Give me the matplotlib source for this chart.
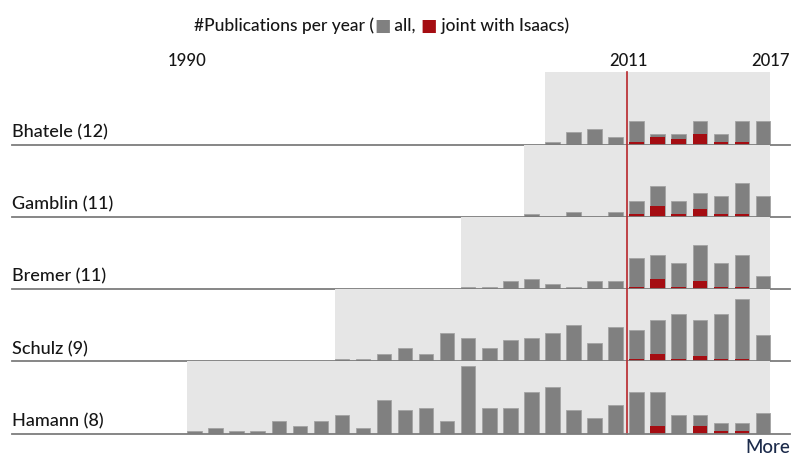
import matplotlib
matplotlib.use("Agg")
import matplotlib.pyplot as plt
from matplotlib.transforms import blended_transform_factory

# Publications per year for each co-author (all papers), first year to 2017
bhatele_all = [1, 5, 6, 3, 9, 4, 4, 9, 4, 9, 9]
gamblin_all = [1, 0, 2, 0, 2, 6, 12, 6, 9, 8, 13, 8]
bremer_all = [1, 1, 3, 4, 2, 1, 3, 3, 12, 13, 10, 17, 10, 13, 5]
schulz_all = [1, 1, 3, 5, 3, 11, 9, 5, 8, 9, 11, 14, 7, 13, 12, 16, 18, 16, 18, 24, 10]
hamann_all = [1, 2, 1, 1, 5, 3, 5, 7, 2, 13, 9, 10, 5, 26, 10, 10, 16, 18, 9, 6, 11,
              16, 16, 7, 7, 4, 4, 8]

# Joint papers with Isaacs, 2011-2017
joint_years = [2011, 2012, 2013, 2014, 2015, 2016, 2017]
bhatele_joint = [1, 3, 2, 4, 1, 1, 0]
gamblin_joint = [1, 4, 1, 3, 1, 1, 0]
bremer_joint = [1, 4, 1, 3, 1, 1, 0]
schulz_joint = [1, 3, 1, 2, 1, 1, 0]
hamann_joint = [0, 3, 0, 3, 1, 1, 0]

names = ["Bhatele", "Gamblin", "Bremer", "Schulz", "Hamann"]
first_years = [2007, 2006, 2003, 1997, 1990]
all_series = [bhatele_all, gamblin_all, bremer_all, schulz_all, hamann_all]
joint_series = [bhatele_joint, gamblin_joint, bremer_joint, schulz_joint, hamann_joint]
last_year = 2017
mark_year = 2011
year_labels = [1990, 2011, 2017]

FONT = ["Lato", "DejaVu Sans"]
WEIGHT = 500
GRAY = "#808080"
RED = "#a50d12"
BG = "#e6e6e6"
TEXT = "#161616"

W, H = 792, 457
fig = plt.figure(figsize=(W / 100, H / 100), dpi=100)

slot_px = 21.05          # horizontal pixels per year
origin_px = 187.3        # left edge of the 1990 slot
bar_w = 0.69
x0 = 1990 - origin_px / slot_px
x1 = x0 + W / slot_px

row_h_px = 72.4
row_step_px = 72.25
first_base_px = 144.7
unit_px = 2.62           # pixels per publication
ymax = row_h_px / unit_px

axes = []
for i, (name, start, vals, joint) in enumerate(zip(names, first_years, all_series, joint_series)):
    base_px = first_base_px + i * row_step_px
    ax = fig.add_axes([0, 1 - base_px / H, 1, row_h_px / H])
    ax.set_xlim(x0, x1)
    ax.set_ylim(0, ymax)
    ax.axis("off")
    years = list(range(start, last_year + 1))
    ax.axvspan(start, last_year + bar_w, color=BG, lw=0, zorder=0)
    ax.axvline(mark_year - 0.1, color="#b8262b", lw=1.2, zorder=1, clip_on=False)
    ax.bar(years, vals, width=bar_w, align="edge", color=GRAY,
           edgecolor="#a3a3a3", linewidth=0.6, zorder=2)
    ax.bar(joint_years, joint, width=bar_w, align="edge", color=RED,
           linewidth=0, zorder=3)
    ax.axhline(0, xmin=12 / W, xmax=790 / W, color="#7d7d7d", lw=1.3,
               zorder=4, clip_on=False)
    total = sum(joint)
    ax.text(12 / W, 7.5 / row_h_px, f"{name} ({total})", transform=ax.transAxes,
            ha="left", va="baseline", fontsize=13, color=TEXT, family=FONT,
            fontweight=WEIGHT)
    axes.append(ax)

# Year ticks above the first row
trans = blended_transform_factory(axes[0].transData, fig.transFigure)
for yr in year_labels:
    xpos = yr + bar_w if yr == last_year else (yr - 0.05 if yr == mark_year else yr)
    axes[0].text(xpos, 1 - 66 / H, str(yr), transform=trans, ha="center",
                 va="baseline", fontsize=12, color=TEXT, family=FONT,
                 fontweight=WEIGHT)

# Title with inline colour keys
pieces = [("#Publications per year (", TEXT), ("\u25A0", GRAY), (" all, ", TEXT),
          ("\u25A0", RED), (" joint with Isaacs)", TEXT)]
for txt, col in pieces:
    fig.text(194 / W, 1 - 30.5 / H, txt, ha="left", va="baseline",
             fontsize=12.5, color=col, family=FONT, fontweight=WEIGHT)
fig.canvas.draw()
renderer = fig.canvas.get_renderer()
texts = fig.texts[-len(pieces):]
x_cursor = texts[0].get_window_extent(renderer).x1
for t in texts[1:]:
    t.set_position((x_cursor / W, 1 - 30.5 / H))
    x_cursor = t.get_window_extent(renderer).x1

fig.text(790 / W, 1 - 453 / H, "More", ha="right", va="baseline",
         fontsize=13.5, color="#1c2b4b", family=FONT, fontweight=WEIGHT)

fig.savefig("out.png", dpi=100)
